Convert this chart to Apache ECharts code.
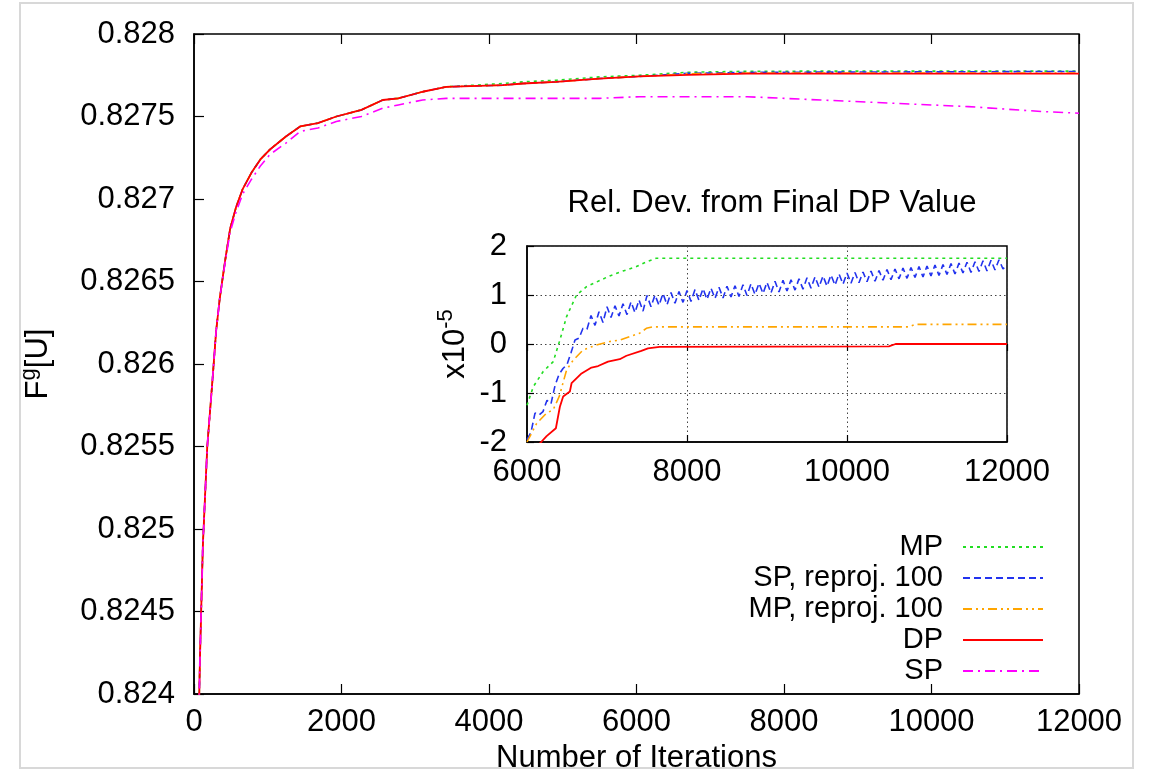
<!DOCTYPE html>
<html><head><meta charset="utf-8">
<script src="https://cdn.jsdelivr.net/npm/echarts@6/dist/echarts.min.js"></script>
<style>html,body{margin:0;padding:0;background:#fff}#c{width:1157px;height:772px}</style>
</head><body><div id="c"></div>
<script>
// ---------- data ----------
const seriesNames = ['MP', 'SP, reproj. 100', 'MP, reproj. 100', 'DP', 'SP'];

// main chart (x = iterations, y = F^g[U])
const mainIter = [50, 80, 120, 180, 250, 300, 350, 420, 490, 570, 660, 780, 900, 1030, 1250, 1440, 1680, 1930, 2270, 2560, 2770, 3100, 3420, 4190, 4460, 4910, 5500, 6040, 6700, 7500, 8500, 9500, 10500, 11500, 12000];
const mainMP   = [0.8235, 0.8242, 0.8249, 0.8255, 0.8259, 0.8262, 0.8264, 0.82662, 0.82682, 0.82695, 0.82706, 0.82716, 0.82724, 0.82730, 0.82738, 0.82744, 0.82746, 0.82750, 0.82754, 0.82760, 0.82761, 0.82765, 0.82768, 0.82770, 0.82771, 0.82772, 0.82774, 0.827750, 0.827768, 0.827774, 0.827775, 0.827775, 0.827775, 0.827775, 0.827775];
const mainSPr  = [0.8235, 0.8242, 0.8249, 0.8255, 0.8259, 0.8262, 0.8264, 0.82662, 0.82682, 0.82695, 0.82706, 0.82716, 0.82724, 0.82730, 0.82738, 0.82744, 0.82746, 0.82750, 0.82754, 0.82760, 0.82761, 0.82765, 0.82768, 0.82769, 0.82770, 0.82771, 0.82773, 0.827743, 0.827762, 0.827767, 0.827769, 0.827770, 0.827771, 0.827773, 0.827773];
const mainMPr  = [0.8235, 0.8242, 0.8249, 0.8255, 0.8259, 0.8262, 0.8264, 0.82662, 0.82682, 0.82695, 0.82706, 0.82716, 0.82724, 0.82730, 0.82738, 0.82744, 0.82746, 0.82750, 0.82754, 0.82760, 0.82761, 0.82765, 0.82768, 0.82769, 0.82770, 0.82771, 0.82773, 0.827743, 0.827759, 0.827763, 0.827763, 0.827763, 0.827763, 0.827764, 0.827764];
const mainDP   = [0.8235, 0.8242, 0.8249, 0.8255, 0.8259, 0.8262, 0.8264, 0.82662, 0.82682, 0.82695, 0.82706, 0.82716, 0.82724, 0.82730, 0.82738, 0.82744, 0.82746, 0.82750, 0.82754, 0.82760, 0.82761, 0.82765, 0.82768, 0.82769, 0.82770, 0.82771, 0.82773, 0.827743, 0.827752, 0.827760, 0.827760, 0.827760, 0.827760, 0.827760, 0.827760];
const mainSP   = [0.8235, 0.8242, 0.8249, 0.8255, 0.8259, 0.8262, 0.8264, 0.82661, 0.82680, 0.82692, 0.82703, 0.82712, 0.82720, 0.82727, 0.82734, 0.82741, 0.82743, 0.82747, 0.82750, 0.82755, 0.82757, 0.82760, 0.82761, 0.82761, 0.82761, 0.82761, 0.82761, 0.82762, 0.82762, 0.82762, 0.82760, 0.82758, 0.82756, 0.82753, 0.82752];

const mainXTicks = ['0', '2000', '4000', '6000', '8000', '10000', '12000'];
const mainYTicks = ['0.824', '0.8245', '0.825', '0.8255', '0.826', '0.8265', '0.827', '0.8275', '0.828'];

// inset (relative deviation from final DP value, units of 1e-5)
const insetMPIter  = [6000, 6079, 6203, 6328, 6411, 6495, 6619, 6744, 7034, 7200, 7367, 7512, 7616, 12000];
const insetMPVal   = [-1.25, -0.87, -0.56, -0.36, 0.08, 0.56, 1.0, 1.17, 1.39, 1.49, 1.58, 1.69, 1.75, 1.75];

const insetSPrStart = 6000, insetSPrStep = 50;
const insetSPrVal = [
  -1.95, -1.80, -1.41, -1.45, -1.38, -1.15, -1.22, -0.85, -0.62, -0.50, -0.42, -0.18, 0.08, 0.12, 0.32, 0.30,
  0.58, 0.38, 0.66, 0.44, 0.76, 0.54, 0.78, 0.57, 0.82, 0.60, 0.86, 0.64, 0.90, 0.67,
  0.99, 0.76, 1.00, 0.79, 1.03, 0.80, 1.05, 0.83, 1.07, 0.85,
  1.09, 0.87, 1.11, 0.89, 1.13, 0.91, 1.14, 0.93, 1.16, 0.94,
  1.18, 0.96, 1.19, 0.97, 1.21, 0.99, 1.23, 1.01, 1.24, 1.03,
  1.26, 1.04, 1.28, 1.06, 1.30, 1.08, 1.31, 1.10, 1.33, 1.12,
  1.35, 1.14, 1.37, 1.16, 1.39, 1.18, 1.41, 1.20, 1.43, 1.22,
  1.45, 1.24, 1.46, 1.25, 1.47, 1.27, 1.49, 1.28, 1.50, 1.30,
  1.52, 1.31, 1.53, 1.33, 1.55, 1.34, 1.56, 1.36, 1.58, 1.37,
  1.59, 1.39, 1.61, 1.40, 1.62, 1.42, 1.64, 1.43, 1.65, 1.45,
  1.67, 1.46, 1.68, 1.48, 1.70, 1.49, 1.71, 1.51, 1.72, 1.53,
  1.62
];

const insetMPrIter = [6000, 6121, 6245, 6328, 6403, 6495, 6577, 6702, 6868, 7034, 7159, 7284, 7408, 7492, 7574, 10773, 10856, 12000];
const insetMPrVal  = [-2.0, -1.62, -1.41, -1.34, -1.07, -0.53, -0.33, -0.12, -0.02, 0.05, 0.08, 0.15, 0.22, 0.32, 0.35, 0.35, 0.40, 0.40];

const insetDPIter  = [6000, 6183, 6245, 6361, 6411, 6452, 6536, 6557, 6682, 6806, 6889, 7013, 7159, 7243, 7429, 7512, 7657, 10523, 10607, 12000];
const insetDPVal   = [-2.3, -1.99, -1.88, -1.72, -1.28, -1.07, -0.97, -0.80, -0.60, -0.48, -0.45, -0.36, -0.31, -0.24, -0.14, -0.09, -0.06, -0.05, 0, 0];

const insetXTicks = ['6000', '8000', '10000', '12000'];
const insetYTicks = ['-2', '-1', '0', '1', '2'];

// ---------- styles ----------
const FONT = 'Liberation Sans, Arial, Helvetica, sans-serif';
const FS = 31;
const LFS = 29;
const styles = {
  'MP':              { color: '#22dd22', type: [3, 4],              width: 1.6 },
  'SP, reproj. 100': { color: '#2233ee', type: [7, 4],              width: 1.6 },
  'MP, reproj. 100': { color: '#ffa500', type: [9, 4, 2, 4, 2, 4],  width: 1.6 },
  'DP':              { color: '#ff0000', type: 'solid',             width: 1.8 },
  'SP':              { color: '#ff00ff', type: [10, 5, 2, 5],       width: 1.6 }
};

const zip = (xs, ys) => xs.map((x, i) => [x, ys[i]]);
const spRData = insetSPrVal.map((v, i) => [insetSPrStart + i * insetSPrStep, v]);

function mk(name, data, xi, yi) {
  const s = styles[name];
  return {
    name, type: 'line', data, xAxisIndex: xi, yAxisIndex: yi,
    symbol: 'none', showSymbol: false, animation: false, clip: true,
    itemStyle: { color: s.color },
    lineStyle: { color: s.color, type: s.type, width: s.width }
  };
}

const mainData = { 'MP': mainMP, 'SP, reproj. 100': mainSPr, 'MP, reproj. 100': mainMPr, 'DP': mainDP, 'SP': mainSP };
const insetData = {
  'MP': zip(insetMPIter, insetMPVal),
  'SP, reproj. 100': spRData,
  'MP, reproj. 100': zip(insetMPrIter, insetMPrVal),
  'DP': zip(insetDPIter, insetDPVal)
};

const series = [];
seriesNames.forEach(n => series.push(mk(n, zip(mainIter, mainData[n]), 0, 0)));
['MP', 'SP, reproj. 100', 'MP, reproj. 100', 'DP'].forEach(n => series.push(mk(n, insetData[n], 2, 1)));

const lbl = { color: '#000', fontFamily: FONT, fontSize: FS };
const richName = {
  b: { fontFamily: FONT, fontSize: FS, color: '#000', lineHeight: 36, verticalAlign: 'bottom' },
  s: { fontFamily: FONT, fontSize: 22, color: '#000', lineHeight: 36, verticalAlign: 'top' }
};

const option = {
  backgroundColor: '#fff',
  animation: false,
  textStyle: { fontFamily: FONT, color: '#000' },
  title: {
    text: 'Rel. Dev. from Final DP Value',
    left: 767, top: 183, textAlign: 'center',
    textStyle: { fontFamily: FONT, fontSize: FS, fontWeight: 'normal', color: '#000' }
  },
  graphic: [{
    type: 'rect', z: -10, silent: true,
    shape: { x: 20, y: 3, width: 1113, height: 765 },
    style: { fill: 'none', stroke: '#d8d8d8', lineWidth: 2 }
  }],
  legend: {
    data: seriesNames, orient: 'vertical', align: 'right',
    right: 108, top: 527, itemWidth: 80, itemHeight: 14, itemGap: 1,
    itemStyle: { opacity: 0 },
    textStyle: { fontFamily: FONT, fontSize: LFS, color: '#000', lineHeight: 30, padding: [0, 15, 0, 0] },
    selectedMode: false
  },
  grid: [
    { left: 194, top: 34, width: 885, height: 660, show: true, borderColor: '#000', borderWidth: 1.5, outerBoundsMode: 'none' },
    { left: 527, top: 246, width: 480, height: 196, show: true, borderColor: '#000', borderWidth: 1.5, outerBoundsMode: 'none' }
  ],
  xAxis: [
    { type: 'value', gridIndex: 0, min: 0, max: 12000, interval: 2000,
      name: 'Number of Iterations', nameLocation: 'middle', nameGap: 39,
      nameTextStyle: lbl,
      axisLine: { show: true, onZero: false, lineStyle: { color: '#000', width: 1.5 } },
      axisTick: { show: true, inside: true, length: 10, lineStyle: { color: '#000', width: 1.2 } },
      axisLabel: Object.assign({ margin: 13, formatter: v => mainXTicks[Math.round(v / 2000)] }, lbl),
      splitLine: { show: false } },
    { type: 'value', gridIndex: 0, position: 'top', min: 0, max: 12000, interval: 2000,
      axisLine: { show: false },
      axisTick: { show: true, inside: true, length: 10, lineStyle: { color: '#000', width: 1.2 } },
      axisLabel: { show: false }, splitLine: { show: false } },
    { type: 'value', gridIndex: 1, min: 6000, max: 12000, interval: 2000,
      axisLine: { show: true, onZero: false, lineStyle: { color: '#000', width: 1.5 } },
      axisTick: { show: true, inside: true, length: 7, lineStyle: { color: '#000', width: 1.2 } },
      axisLabel: Object.assign({ margin: 15, formatter: v => insetXTicks[Math.round((v - 6000) / 2000)] }, lbl),
      splitLine: { show: true, lineStyle: { color: '#444', type: [1.5, 3], width: 1 } } },
    { type: 'value', gridIndex: 1, position: 'top', min: 6000, max: 12000, interval: 2000,
      axisLine: { show: false },
      axisTick: { show: true, inside: true, length: 7, lineStyle: { color: '#000', width: 1.2 } },
      axisLabel: { show: false }, splitLine: { show: false } }
  ],
  yAxis: [
    { type: 'value', gridIndex: 0, min: 0.824, max: 0.828, interval: 0.0005,
      name: '{b|F}{s|g}{b|[U]}', nameLocation: 'middle', nameGap: 140, nameRotate: 90,
      nameTextStyle: { color: '#000', fontFamily: FONT, fontSize: FS, rich: richName },
      axisLine: { show: true, onZero: false, lineStyle: { color: '#000', width: 1.5 } },
      axisTick: { show: true, inside: true, length: 10, lineStyle: { color: '#000', width: 1.2 } },
      axisLabel: Object.assign({ margin: 19, formatter: v => mainYTicks[Math.round((v - 0.824) / 0.0005)] }, lbl),
      splitLine: { show: false } },
    { type: 'value', gridIndex: 1, min: -2, max: 2, interval: 1,
      name: '{b|x10}{s|-5}', nameLocation: 'middle', nameGap: 56, nameRotate: 90,
      nameTextStyle: { color: '#000', fontFamily: FONT, fontSize: FS, rich: richName },
      axisLine: { show: true, onZero: false, lineStyle: { color: '#000', width: 1.5 } },
      axisTick: { show: true, inside: true, length: 7, lineStyle: { color: '#000', width: 1.2 } },
      axisLabel: Object.assign({ margin: 20, formatter: v => insetYTicks[Math.round(v + 2)] }, lbl),
      splitLine: { show: true, lineStyle: { color: '#444', type: [1.5, 3], width: 1 } } }
  ],
  series
};

const chart = echarts.init(document.getElementById('c'), null, { renderer: 'canvas' });
chart.setOption(option);
</script>
</body></html>
